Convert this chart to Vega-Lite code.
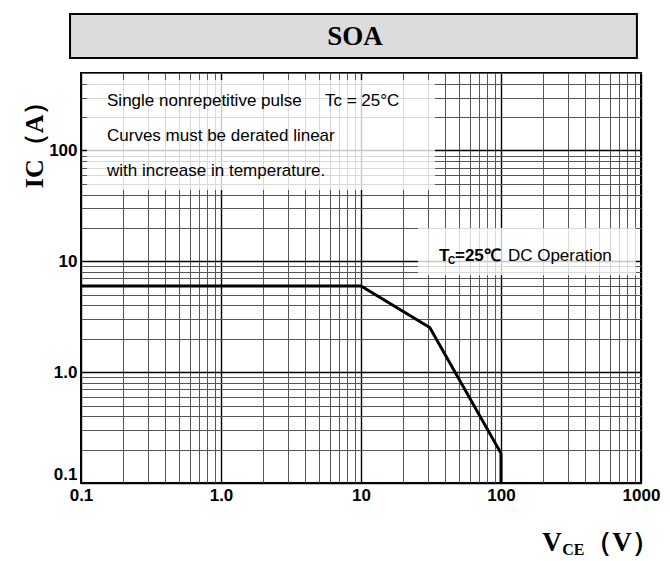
{
  "$schema": "https://vega.github.io/schema/vega-lite/v6.json",
  "width": 560,
  "height": 410,
  "autosize": "none",
  "padding": {"left": 81, "top": 73, "right": 29, "bottom": 78},
  "background": "white",
  "config": {
    "view": {"stroke": "black", "strokeWidth": 2},
    "axis": {"ticks": false, "domain": false, "labelColor": "black", "titleColor": "black"}
  },
  "datasets": {
    "curve": [
      {"seq": 1, "x": 0.1, "y": 6},
      {"seq": 2, "x": 10, "y": 6},
      {"seq": 3, "x": 31, "y": 2.53},
      {"seq": 4, "x": 100, "y": 0.185},
      {"seq": 5, "x": 100, "y": 0.1}
    ],
    "boxes": [
      {"x": 0.1104, "x2": 33.8, "y": 432, "y2": 44},
      {"x": 25.5, "x2": 921, "y": 20, "y2": 7.5}
    ],
    "titlebox": [
      {"x": 0.0835, "x2": 935, "y": 683, "y2": 1704}
    ],
    "notes": [
      {"x": 0.1534, "y": 279.5, "text": "Single nonrepetitive pulse"},
      {"x": 5.53, "y": 279.5, "text": "Tc = 25°C"},
      {"x": 0.1534, "y": 135, "text": "Curves must be derated linear"},
      {"x": 0.1534, "y": 65.2, "text": "with increase in temperature."},
      {"x": 112, "y": 11.15, "text": "DC Operation"}
    ],
    "boldnotes": [
      {"x": 36.1, "y": 11.15, "text": "T"},
      {"x": 46.9, "y": 11.15, "text": "=25℃"}
    ],
    "subnotes": [
      {"x": 41.8, "y": 10.05, "text": "C"}
    ],
    "serifbig": [
      {"x": 197, "y": 0.0286, "text": "V"},
      {"x": 400, "y": 0.0286, "text": "（V）"}
    ],
    "serifsub": [
      {"x": 274, "y": 0.0248, "text": "CE"}
    ],
    "heading": [
      {"x": 9.06, "y": 1056, "text": "SOA"}
    ]
  },
  "layer": [
    {
      "data": {"name": "boxes"},
      "mark": {"type": "rect", "fill": "white", "fillOpacity": 0.78, "stroke": null},
      "encoding": {
        "x": {
          "field": "x", "type": "quantitative",
          "scale": {"type": "log", "domain": [0.1, 1000], "nice": false, "zero": false},
          "axis": {
            "title": null,
            "values": [0.1,0.2,0.3,0.4,0.5,0.6,0.7,0.8,0.9,1,2,3,4,5,6,7,8,9,10,20,30,40,50,60,70,80,90,100,200,300,400,500,600,700,800,900,1000],
            "labelExpr": "datum.value==0.1?'0.1':datum.value==1?'1.0':datum.value==10?'10':datum.value==100?'100':datum.value==1000?'1000':''",
            "labelOverlap": false,
            "labelFlush": false,
            "labelFont": "Liberation Sans",
            "labelFontWeight": "bold",
            "labelFontSize": 17,
            "labelPadding": 4,
            "grid": true,
            "gridColor": {"condition": {"test": "indexof([0.1,1,10,100,1000], datum.value) >= 0", "value": "#000000"}, "value": "#555555"},
            "gridWidth": {"condition": {"test": "indexof([0.1,1,10,100,1000], datum.value) >= 0", "value": 1.4}, "value": 1}
          }
        },
        "x2": {"field": "x2"},
        "y": {
          "field": "y", "type": "quantitative",
          "scale": {"type": "log", "domain": [0.1, 500], "nice": false, "zero": false},
          "axis": {
            "title": "IC（A）",
            "titleFont": "Liberation Serif",
            "titleFontWeight": "bold",
            "titleFontSize": 26,
            "titleAnchor": "end",
            "titleX": -34,
            "titleY": 15,
            "values": [0.1,0.2,0.3,0.4,0.5,0.6,0.7,0.8,0.9,1,2,3,4,5,6,7,8,9,10,20,30,40,50,60,70,80,90,100,200,300,400,500],
            "labelExpr": "datum.value==0.1?'0.1':datum.value==1?'1.0':datum.value==10?'10':datum.value==100?'100':''",
            "labelOverlap": false,
            "labelFlush": true,
            "labelFont": "Liberation Sans",
            "labelFontWeight": "bold",
            "labelFontSize": 17,
            "labelPadding": 4,
            "grid": true,
            "gridColor": {"condition": {"test": "indexof([0.1,1,10,100], datum.value) >= 0", "value": "#000000"}, "value": "#555555"},
            "gridWidth": {"condition": {"test": "indexof([0.1,1,10,100], datum.value) >= 0", "value": 1.4}, "value": 1}
          }
        },
        "y2": {"field": "y2"}
      }
    },
    {
      "data": {"name": "curve"},
      "mark": {"type": "line", "color": "black", "strokeWidth": 3, "strokeJoin": "miter"},
      "encoding": {
        "x": {"field": "x", "type": "quantitative"},
        "y": {"field": "y", "type": "quantitative"},
        "order": {"field": "seq", "type": "quantitative"}
      }
    },
    {
      "data": {"name": "titlebox"},
      "mark": {"type": "rect", "fill": "#dcdcdc", "stroke": "black", "strokeWidth": 2, "clip": false},
      "encoding": {
        "x": {"field": "x", "type": "quantitative"},
        "x2": {"field": "x2"},
        "y": {"field": "y", "type": "quantitative"},
        "y2": {"field": "y2"}
      }
    },
    {
      "data": {"name": "heading"},
      "mark": {"type": "text", "font": "Liberation Serif", "fontWeight": "bold", "fontSize": 27, "align": "center", "baseline": "middle", "color": "black"},
      "encoding": {
        "x": {"field": "x", "type": "quantitative"},
        "y": {"field": "y", "type": "quantitative"},
        "text": {"field": "text"}
      }
    },
    {
      "data": {"name": "notes"},
      "mark": {"type": "text", "font": "Liberation Sans", "fontSize": 17, "align": "left", "baseline": "middle", "color": "black"},
      "encoding": {
        "x": {"field": "x", "type": "quantitative"},
        "y": {"field": "y", "type": "quantitative"},
        "text": {"field": "text"}
      }
    },
    {
      "data": {"name": "boldnotes"},
      "mark": {"type": "text", "font": "Liberation Sans", "fontWeight": "bold", "fontSize": 17, "align": "left", "baseline": "middle", "color": "black"},
      "encoding": {
        "x": {"field": "x", "type": "quantitative"},
        "y": {"field": "y", "type": "quantitative"},
        "text": {"field": "text"}
      }
    },
    {
      "data": {"name": "subnotes"},
      "mark": {"type": "text", "font": "Liberation Sans", "fontWeight": "bold", "fontSize": 10, "align": "left", "baseline": "middle", "color": "black"},
      "encoding": {
        "x": {"field": "x", "type": "quantitative"},
        "y": {"field": "y", "type": "quantitative"},
        "text": {"field": "text"}
      }
    },
    {
      "data": {"name": "serifbig"},
      "mark": {"type": "text", "font": "Liberation Serif", "fontWeight": "bold", "fontSize": 27, "align": "left", "baseline": "middle", "color": "black"},
      "encoding": {
        "x": {"field": "x", "type": "quantitative"},
        "y": {"field": "y", "type": "quantitative"},
        "text": {"field": "text"}
      }
    },
    {
      "data": {"name": "serifsub"},
      "mark": {"type": "text", "font": "Liberation Serif", "fontWeight": "bold", "fontSize": 16, "align": "left", "baseline": "middle", "color": "black"},
      "encoding": {
        "x": {"field": "x", "type": "quantitative"},
        "y": {"field": "y", "type": "quantitative"},
        "text": {"field": "text"}
      }
    }
  ]
}
